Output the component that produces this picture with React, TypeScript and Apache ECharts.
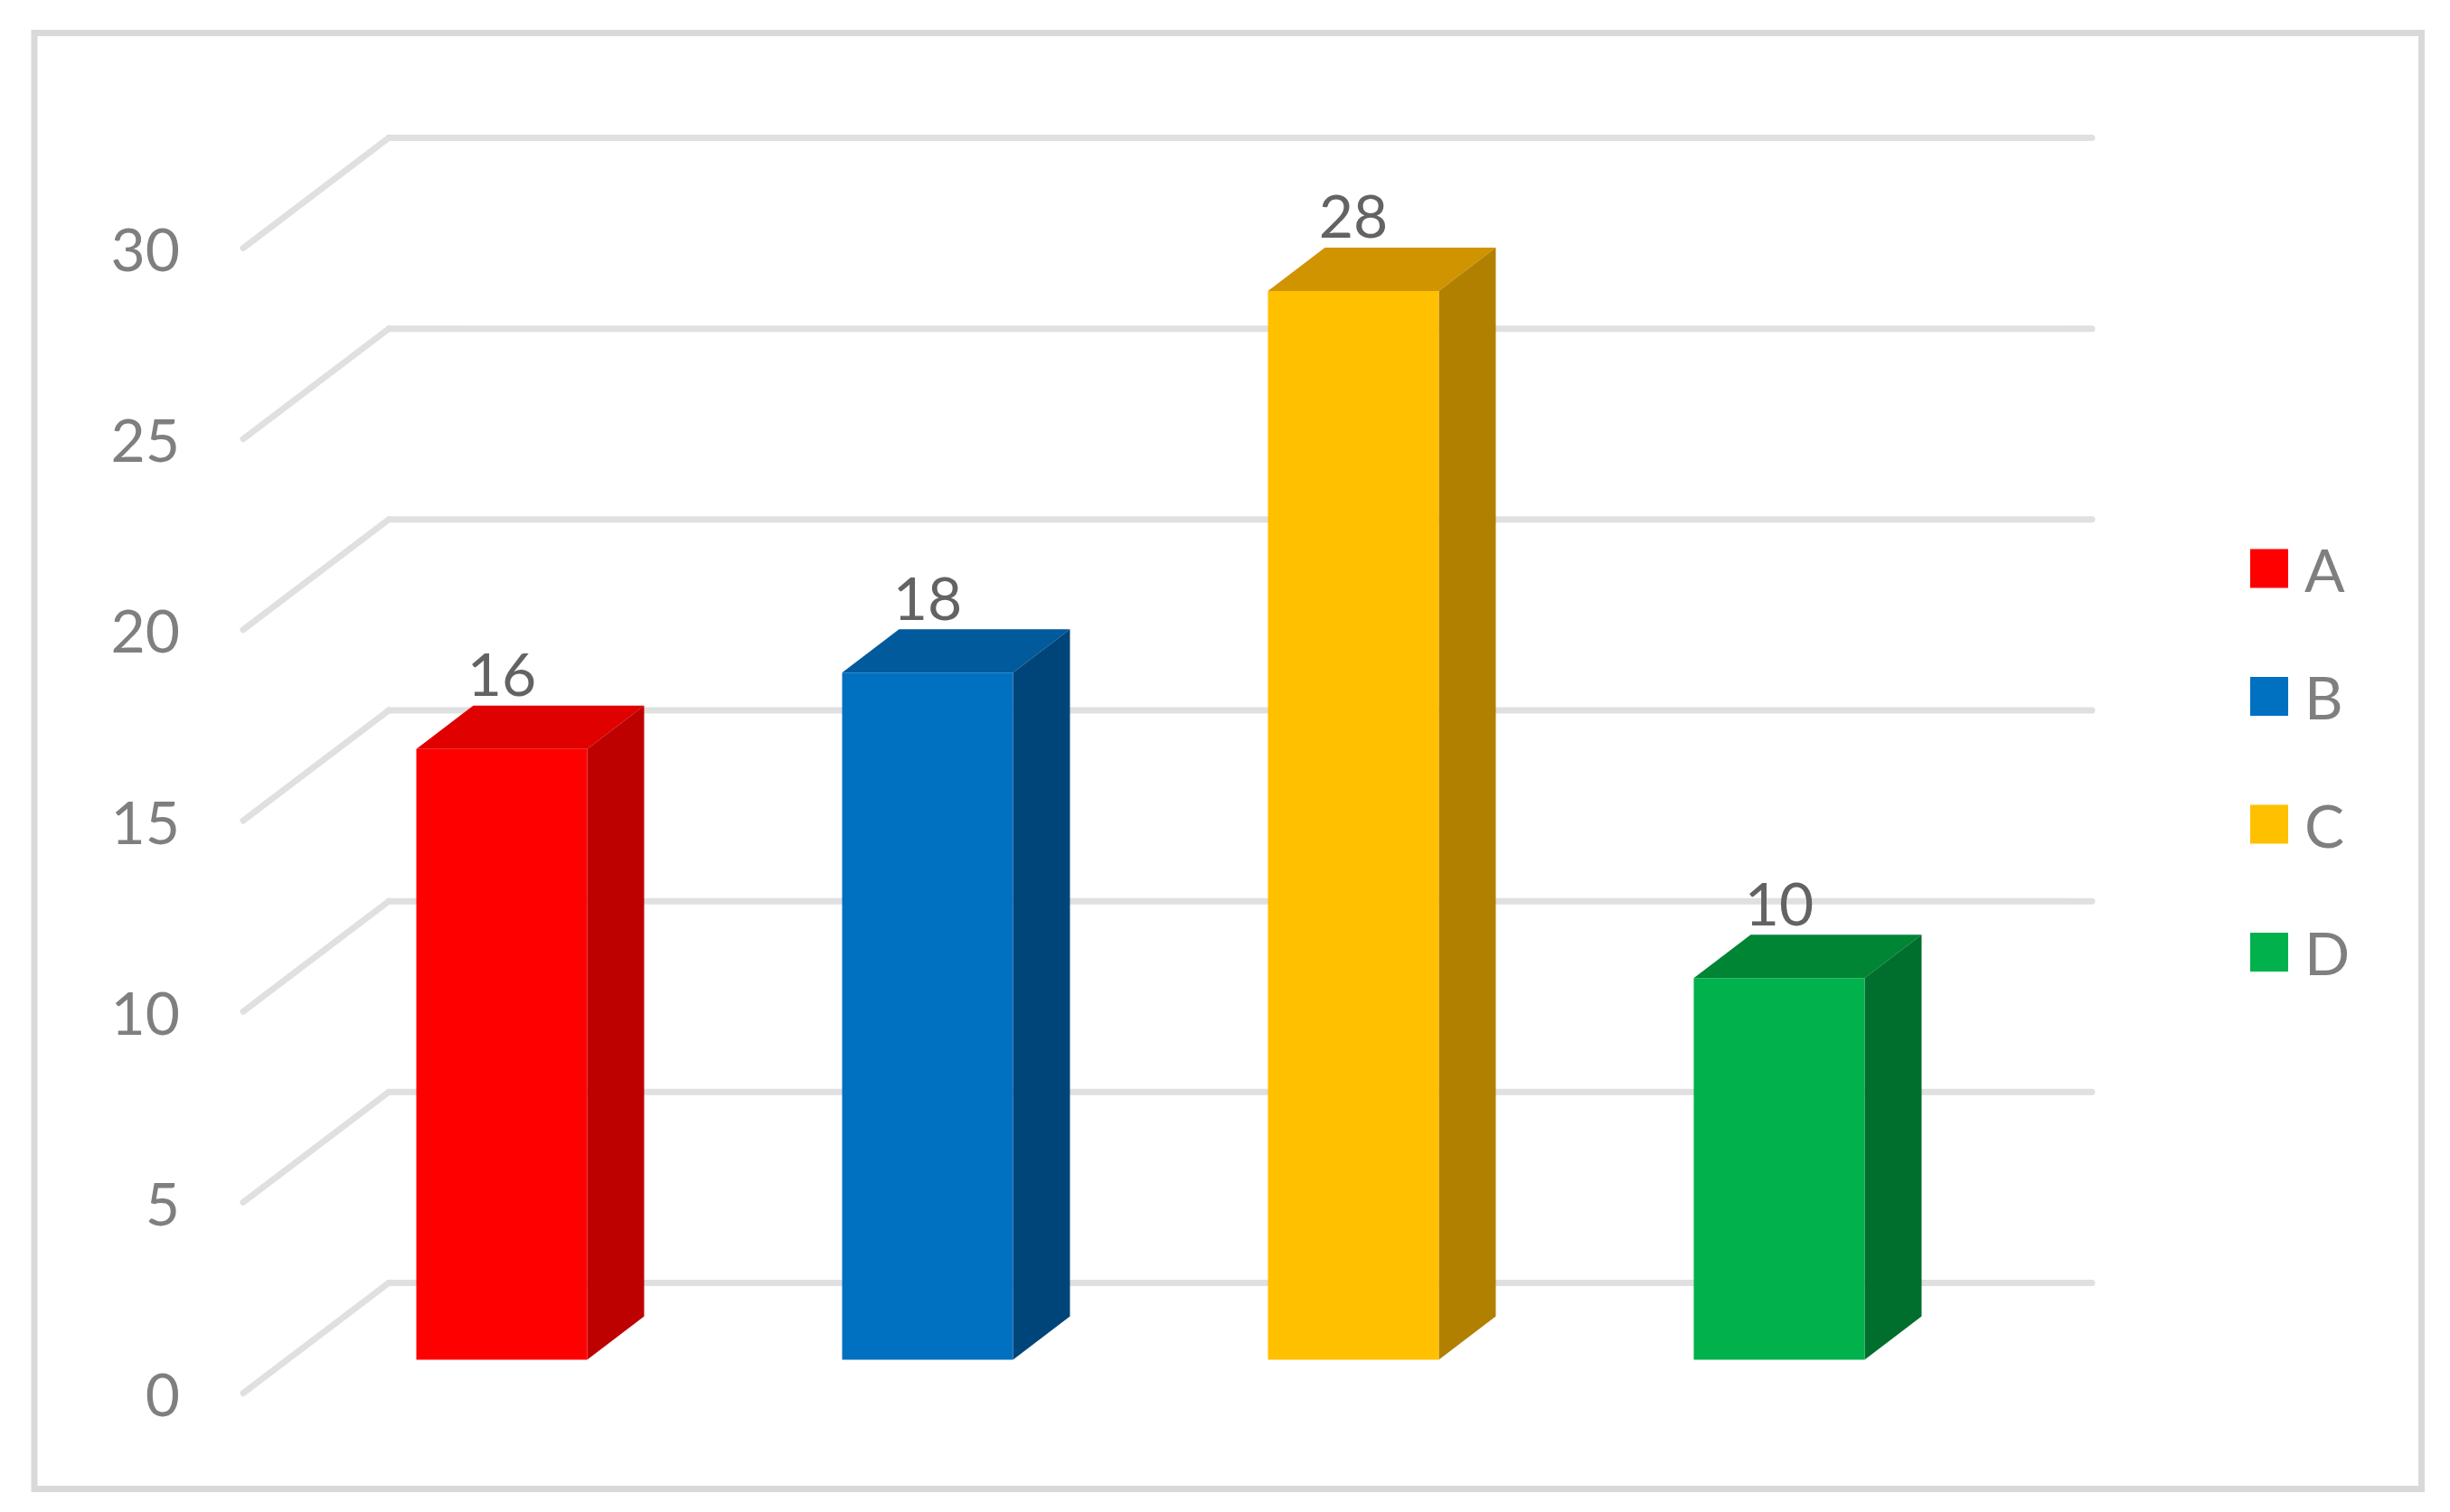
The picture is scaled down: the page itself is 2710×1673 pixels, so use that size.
import React, { useEffect, useRef } from "react";
import * as echarts from "echarts";

const categories = ["A", "B", "C", "D"];
const values = [16, 18, 28, 10];
const frontColors = ["#FF0000", "#0070C0", "#FFC000", "#00B14C"];
const topColors = ["#E00000", "#005A9B", "#CF9400", "#008535"];
const sideColors = ["#BD0000", "#00457A", "#B28000", "#006E2C"];
const yTicks = [0, 5, 10, 15, 20, 25, 30];

const FONT = "Lato";
const W = 2710;
const H = 1673;
const BAR_DX = 63;
const BAR_DY = 48;
const WALL_DX = 161;
const WALL_DY = 122;
const BAR_WIDTH = 189;

function barSeries(i: number) {
  return {
    type: "custom",
    name: categories[i],
    xAxisIndex: 1,
    yAxisIndex: 1,
    itemStyle: { color: frontColors[i] },
    data: [[i, values[i]]],
    z: 5,
    renderItem: (_p: any, api: any) => {
      const [cx, top] = api.coord([api.value(0), api.value(1)]);
      const [, base] = api.coord([api.value(0), 0]);
      const l = cx - BAR_WIDTH / 2;
      const r = cx + BAR_WIDTH / 2;
      return {
        type: "group",
        children: [
          {
            type: "polygon",
            shape: { points: [[l, top], [l + BAR_DX, top - BAR_DY], [r + BAR_DX, top - BAR_DY], [r, top]] },
            style: { fill: topColors[i] },
          },
          {
            type: "polygon",
            shape: { points: [[r, top], [r + BAR_DX, top - BAR_DY], [r + BAR_DX, base - BAR_DY], [r, base]] },
            style: { fill: sideColors[i] },
          },
          {
            type: "rect",
            shape: { x: l, y: top, width: BAR_WIDTH, height: base - top },
            style: { fill: frontColors[i] },
          },
          {
            type: "text",
            style: {
              text: String(api.value(1)),
              x: cx,
              y: top - 84,
              fill: "#636363",
              font: `66px ${FONT}`,
              align: "center",
              verticalAlign: "middle",
            },
          },
        ],
      };
    },
  };
}

export default function App() {
  const ref = useRef<HTMLDivElement>(null);
  useEffect(() => {
    const chart = echarts.init(ref.current!, null, { renderer: "svg" });
    chart.setOption({
      animation: false,
      backgroundColor: "#ffffff",
      graphic: [
        {
          type: "rect",
          shape: { x: 38, y: 36.5, width: 2640.5, height: 1611 },
          style: { fill: "none", stroke: "#d9d9d9", lineWidth: 7 },
          z: 0,
        },
      ],
      grid: [
        { left: 269, top: 274.5, width: 2045, height: 1267 },
        { left: 319.5, top: 237.5, width: 1884, height: 1267 },
      ],
      xAxis: [
        { gridIndex: 0, type: "value", min: 0, max: 1, show: false },
        { gridIndex: 1, type: "category", data: categories, show: false },
      ],
      yAxis: [
        {
          gridIndex: 0,
          type: "value",
          min: 0,
          max: 30,
          interval: 5,
          axisLine: { show: false },
          axisTick: { show: false },
          splitLine: { show: false },
          axisLabel: { color: "#7f7f7f", fontSize: 66, fontFamily: FONT, margin: 70 },
        },
        { gridIndex: 1, type: "value", min: 0, max: 30, interval: 5, show: false },
      ],
      legend: {
        orient: "vertical",
        left: 2489,
        top: 596,
        padding: 0,
        icon: "rect",
        itemWidth: 42,
        itemHeight: 43,
        itemGap: 75.5,
        data: categories,
        textStyle: { color: "#7f7f7f", fontSize: 66, fontFamily: FONT, padding: [0, 0, 0, 13] },
      },
      series: [
        {
          type: "custom",
          silent: true,
          xAxisIndex: 0,
          yAxisIndex: 0,
          data: yTicks.map((t) => [0, t]),
          z: 1,
          renderItem: (_p: any, api: any) => {
            const [x0, y0] = api.coord([0, api.value(1)]);
            const [x1] = api.coord([1, api.value(1)]);
            const bx = x0 + WALL_DX;
            const by = y0 - WALL_DY;
            const style = { stroke: "#e0e0e0", lineWidth: 7, lineCap: "round" };
            return {
              type: "group",
              children: [
                { type: "line", shape: { x1: x0, y1: y0, x2: bx, y2: by }, style },
                { type: "line", shape: { x1: bx, y1: by, x2: x1, y2: by }, style },
              ],
            };
          },
        },
        ...categories.map((_c, i) => barSeries(i)),
      ],
    });
    return () => chart.dispose();
  }, []);
  return <div ref={ref} style={{ position: "absolute", left: 0, top: 0, width: W, height: H }} />;
}
